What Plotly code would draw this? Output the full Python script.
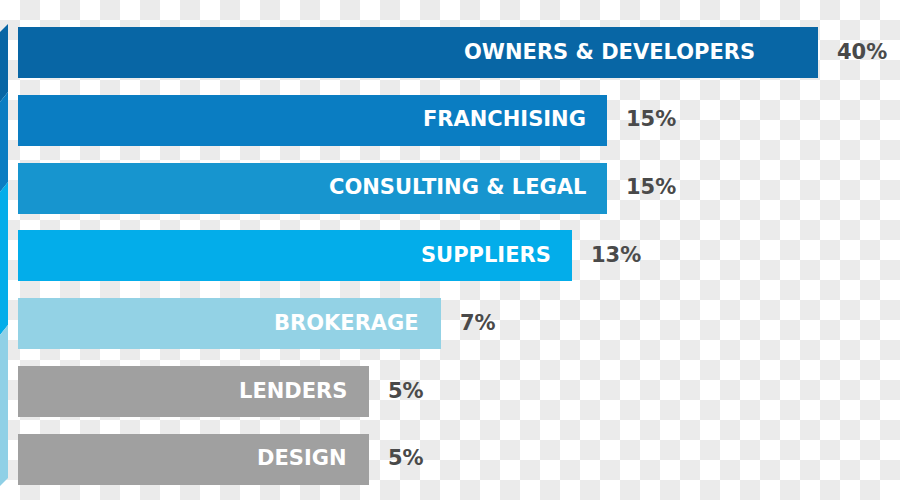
import base64
import plotly.graph_objects as go

# ---- data ----
categories = ["OWNERS & DEVELOPERS", "FRANCHISING", "CONSULTING & LEGAL",
              "SUPPLIERS", "BROKERAGE", "LENDERS", "DESIGN"]
percent_labels = ["40%", "15%", "15%", "13%", "7%", "5%", "5%"]
# drawn bar lengths (infographic, not proportional to the percentages)
bar_lengths = [800, 589, 589, 554, 423, 351, 351]

# ---- style ----
bar_colors = ["#0866a5", "#0a7dc2", "#1795cf", "#03adea", "#93d2e5", "#a0a0a0", "#a0a0a0"]
inside_pad = [61, 19, 19, 19, 20, 20, 20]
W, H = 900, 500
pitch = 67.83
first_center = 52.5

ypos = list(range(len(categories)))

fig = go.Figure()
fig.add_trace(go.Bar(
    x=bar_lengths, y=ypos, orientation="h",
    marker=dict(color=bar_colors, line=dict(width=0)),
    width=0.752, hoverinfo="skip",
))

# inside category labels
for i, (cat, L) in enumerate(zip(categories, bar_lengths)):
    fig.add_annotation(x=L, y=i, text=cat, xref="x", yref="y",
                       xanchor="right", yanchor="middle", xshift=-inside_pad[i], yshift=1,
                       showarrow=False,
                       font=dict(family="DejaVu Sans", size=21, color="white", weight="bold"))
    fig.add_annotation(x=L, y=i, text=percent_labels[i], xref="x", yref="y",
                       xanchor="left", yanchor="middle", xshift=17, yshift=1,
                       showarrow=False,
                       font=dict(family="DejaVu Sans", size=21, color="#4a4a4a", weight="bold"))

# checkerboard background (transparent-image pattern)
svg = (f'<svg xmlns="http://www.w3.org/2000/svg" width="{W}" height="{H}">'
       '<defs><pattern id="p" width="40" height="40" patternUnits="userSpaceOnUse">'
       '<rect width="40" height="40" fill="#ffffff"/>'
       '<rect x="20" y="0" width="20" height="20" fill="#ebebeb"/>'
       '<rect x="0" y="20" width="20" height="20" fill="#ebebeb"/>'
       '</pattern></defs>'
       f'<rect width="{W}" height="{H}" fill="url(#p)"/></svg>')
src = "data:image/svg+xml;base64," + base64.b64encode(svg.encode()).decode()
fig.add_layout_image(dict(source=src, xref="paper", yref="paper", x=0, y=1,
                          sizex=1, sizey=1, xanchor="left", yanchor="top",
                          sizing="stretch", layer="below"))

# left decorative strip
def px(xp, yp):
    return f"{xp / W:.5f},{1 - yp / H:.5f}"

strip = [
    ("#0866a5", [(0, 32), (8, 24), (8, 92), (0, 102)]),
    ("#0a7dc2", [(0, 102), (8, 92), (8, 182), (0, 192)]),
    ("#03adea", [(0, 192), (8, 182), (8, 325), (0, 335)]),
    ("#8fd0e6", [(0, 335), (8, 325), (8, 478), (0, 486)]),
]
for col, pts in strip:
    path = "M " + " L ".join(px(a, b) for a, b in pts) + " Z"
    fig.add_shape(type="path", path=path, xref="paper", yref="paper",
                  fillcolor=col, line=dict(width=0), layer="above")

y_top = -first_center / pitch
y_bot = (H - first_center) / pitch
fig.update_layout(
    width=W, height=H, margin=dict(l=0, r=0, t=0, b=0),
    paper_bgcolor="white", plot_bgcolor="rgba(0,0,0,0)",
    showlegend=False,
    xaxis=dict(range=[-18, W - 18], visible=False, fixedrange=True),
    yaxis=dict(range=[y_bot, y_top], visible=False, fixedrange=True),
    bargap=0,
)
fig.write_html("out.html", config={"displayModeBar": False})
